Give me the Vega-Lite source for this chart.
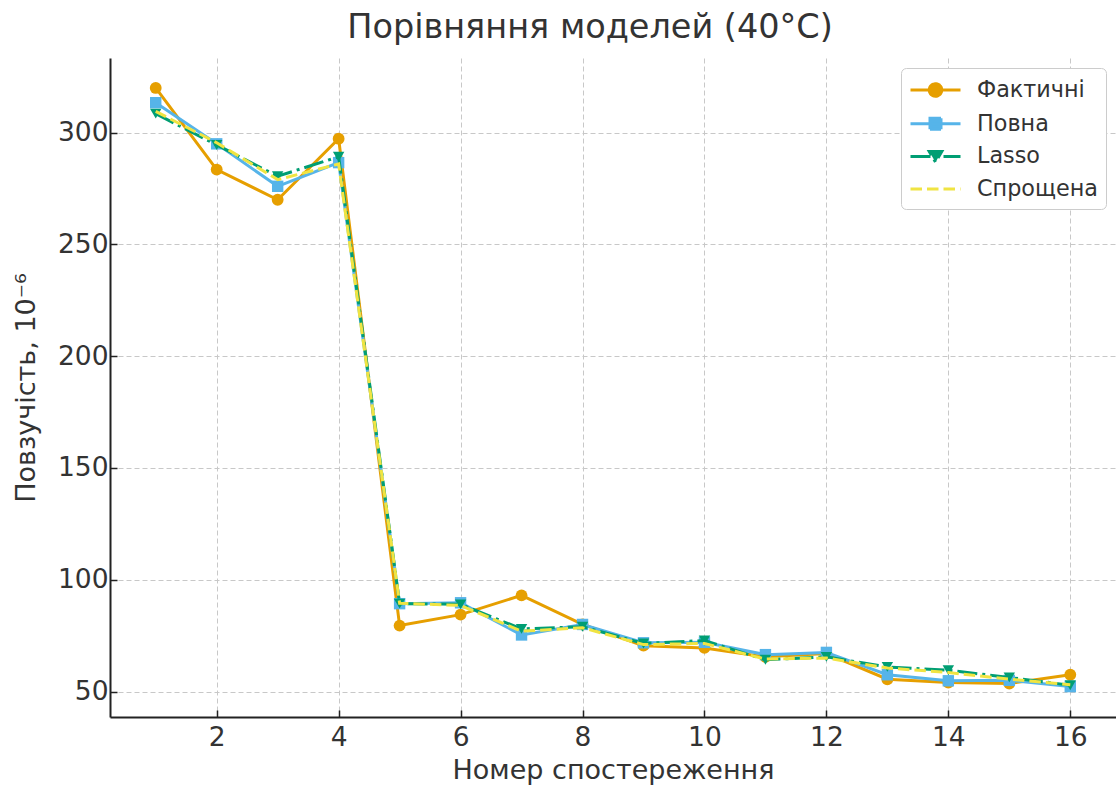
{
  "$schema": "https://vega.github.io/schema/vega-lite/v6.json",
  "width": 1006,
  "height": 659,
  "autosize": {"type": "none"},
  "padding": {"left": 110, "top": 58, "right": 0, "bottom": 73},
  "background": "white",
  "title": {
    "text": "Порівняння моделей (40°C)",
    "font": "DejaVu Sans",
    "fontSize": 33.5,
    "fontWeight": "normal",
    "color": "#333333",
    "anchor": "middle",
    "frame": "group",
    "baseline": "bottom",
    "offset": 15,
    "dx": -23,
    "dy": 35
  },
  "config": {
    "font": "DejaVu Sans",
    "view": {"stroke": null},
    "axis": {
      "labelFont": "DejaVu Sans",
      "labelFontSize": 26.5,
      "labelColor": "#333333",
      "titleFont": "DejaVu Sans",
      "titleFontSize": 27,
      "titleFontWeight": "normal",
      "titleColor": "#333333",
      "domainColor": "#222222",
      "domainWidth": 2,
      "tickColor": "#222222",
      "tickWidth": 1.5,
      "tickSize": -7,
      "labelPadding": 9,
      "gridColor": "#c8c8c8",
      "gridDash": [5, 3],
      "gridWidth": 1
    }
  },
  "data": {
    "values": [
      {"x": 1, "series": "Фактичні", "value": 320},
      {"x": 2, "series": "Фактичні", "value": 283.5},
      {"x": 3, "series": "Фактичні", "value": 270},
      {"x": 4, "series": "Фактичні", "value": 297.3},
      {"x": 5, "series": "Фактичні", "value": 79.5},
      {"x": 6, "series": "Фактичні", "value": 84.4},
      {"x": 7, "series": "Фактичні", "value": 93},
      {"x": 8, "series": "Фактичні", "value": 80},
      {"x": 9, "series": "Фактичні", "value": 70.5},
      {"x": 10, "series": "Фактичні", "value": 69.5},
      {"x": 11, "series": "Фактичні", "value": 65.5},
      {"x": 12, "series": "Фактичні", "value": 67},
      {"x": 13, "series": "Фактичні", "value": 55.5},
      {"x": 14, "series": "Фактичні", "value": 54},
      {"x": 15, "series": "Фактичні", "value": 53.6},
      {"x": 16, "series": "Фактичні", "value": 57.5},
      {"x": 1, "series": "Повна", "value": 313.4},
      {"x": 2, "series": "Повна", "value": 295},
      {"x": 3, "series": "Повна", "value": 276},
      {"x": 4, "series": "Повна", "value": 286.6},
      {"x": 5, "series": "Повна", "value": 89.3},
      {"x": 6, "series": "Повна", "value": 89.7},
      {"x": 7, "series": "Повна", "value": 75.3},
      {"x": 8, "series": "Повна", "value": 80},
      {"x": 9, "series": "Повна", "value": 71.8},
      {"x": 10, "series": "Повна", "value": 72},
      {"x": 11, "series": "Повна", "value": 66.5},
      {"x": 12, "series": "Повна", "value": 67.5},
      {"x": 13, "series": "Повна", "value": 57.5},
      {"x": 14, "series": "Повна", "value": 54.8},
      {"x": 15, "series": "Повна", "value": 55},
      {"x": 16, "series": "Повна", "value": 52.2},
      {"x": 1, "series": "Lasso", "value": 308.5},
      {"x": 2, "series": "Lasso", "value": 294.5},
      {"x": 3, "series": "Lasso", "value": 280.5},
      {"x": 4, "series": "Lasso", "value": 289.2},
      {"x": 5, "series": "Lasso", "value": 89.3},
      {"x": 6, "series": "Lasso", "value": 89},
      {"x": 7, "series": "Lasso", "value": 78},
      {"x": 8, "series": "Lasso", "value": 79},
      {"x": 9, "series": "Lasso", "value": 71.5},
      {"x": 10, "series": "Lasso", "value": 72.8},
      {"x": 11, "series": "Lasso", "value": 64.2},
      {"x": 12, "series": "Lasso", "value": 65.5},
      {"x": 13, "series": "Lasso", "value": 61},
      {"x": 14, "series": "Lasso", "value": 59.5},
      {"x": 15, "series": "Lasso", "value": 56.3},
      {"x": 16, "series": "Lasso", "value": 52.8},
      {"x": 1, "series": "Спрощена", "value": 309.5},
      {"x": 2, "series": "Спрощена", "value": 295.5},
      {"x": 3, "series": "Спрощена", "value": 279},
      {"x": 4, "series": "Спрощена", "value": 286},
      {"x": 5, "series": "Спрощена", "value": 89.5},
      {"x": 6, "series": "Спрощена", "value": 88.5},
      {"x": 7, "series": "Спрощена", "value": 77},
      {"x": 8, "series": "Спрощена", "value": 78.5},
      {"x": 9, "series": "Спрощена", "value": 71},
      {"x": 10, "series": "Спрощена", "value": 71.5},
      {"x": 11, "series": "Спрощена", "value": 64.5},
      {"x": 12, "series": "Спрощена", "value": 65},
      {"x": 13, "series": "Спрощена", "value": 60.5},
      {"x": 14, "series": "Спрощена", "value": 58.5},
      {"x": 15, "series": "Спрощена", "value": 55.5},
      {"x": 16, "series": "Спрощена", "value": 53}
    ]
  },
  "encoding": {
    "x": {
      "field": "x",
      "type": "quantitative",
      "title": "Номер спостереження",
      "scale": {"domain": [0.25, 16.75], "nice": false, "zero": false},
      "axis": {"values": [2, 4, 6, 8, 10, 12, 14, 16], "labelPadding": 14, "titlePadding": 6.5}
    },
    "y": {
      "field": "value",
      "type": "quantitative",
      "title": "Повзучість, 10⁻⁶",
      "scale": {"domain": [38.6, 333.4], "nice": false, "zero": false},
      "axis": {"values": [50, 100, 150, 200, 250, 300], "titlePadding": 17}
    },
    "color": {
      "field": "series",
      "type": "nominal",
      "scale": {
        "domain": ["Фактичні", "Повна", "Lasso", "Спрощена"],
        "range": ["#E69F00", "#56B4E9", "#009E73", "#F0E442"]
      },
      "legend": {
        "title": null,
        "orient": "top-right",
        "offset": 10,
        "labelFont": "DejaVu Sans",
        "labelFontSize": 22.3,
        "labelColor": "#333333",
        "labelOffset": 40,
        "symbolSize": 625,
        "symbolStrokeWidth": 3,
        "rowPadding": 6.7,
        "padding": 8,
        "fillColor": "white",
        "strokeColor": "#cccccc",
        "cornerRadius": 5,
        "encode": {
          "symbols": {
            "update": {
              "shape": {"signal": "datum.value === 'Фактичні' ? 'M-1,0L3,0M1.5,0C1.5,0.276,1.276,0.5,1,0.5C0.724,0.5,0.5,0.276,0.5,0C0.5,-0.276,0.724,-0.5,1,-0.5C1.276,-0.5,1.5,-0.276,1.5,0Z' : datum.value === 'Повна' ? 'M-1,0L3,0M0.56,-0.44L1.44,-0.44L1.44,0.44L0.56,0.44Z' : datum.value === 'Lasso' ? 'M-1,0L3,0M0.5,-0.4L1.5,-0.4L1,0.46Z' : 'M-1,0L3,0'"},
              "fill": {"scale": "color", "field": "value"},
              "stroke": {"scale": "color", "field": "value"},
              "opacity": {"value": 1},
              "fillOpacity": {"value": 1},
              "strokeOpacity": {"value": 1},
              "strokeDash": {"signal": "datum.value === 'Lasso' ? [20, 5, 3, 5] : datum.value === 'Спрощена' ? [11.5, 5] : [1, 0]"}
            }
          }
        }
      }
    }
  },
  "layer": [
    {
      "transform": [{"filter": "datum.series === 'Фактичні'"}],
      "mark": {"type": "line", "strokeWidth": 3}
    },
    {
      "transform": [{"filter": "datum.series === 'Фактичні'"}],
      "mark": {"type": "point", "shape": "circle", "filled": true, "opacity": 1, "size": 140}
    },
    {
      "transform": [{"filter": "datum.series === 'Повна'"}],
      "mark": {"type": "line", "strokeWidth": 3}
    },
    {
      "transform": [{"filter": "datum.series === 'Повна'"}],
      "mark": {"type": "point", "shape": "square", "filled": true, "opacity": 1, "size": 130}
    },
    {
      "transform": [{"filter": "datum.series === 'Lasso'"}],
      "mark": {"type": "line", "strokeWidth": 3, "strokeDash": [20, 5, 3, 5]}
    },
    {
      "transform": [{"filter": "datum.series === 'Lasso'"}],
      "mark": {"type": "point", "shape": "triangle-down", "filled": true, "opacity": 1, "size": 130}
    },
    {
      "transform": [{"filter": "datum.series === 'Спрощена'"}],
      "mark": {"type": "line", "strokeWidth": 3, "strokeDash": [11.5, 5]}
    }
  ]
}
